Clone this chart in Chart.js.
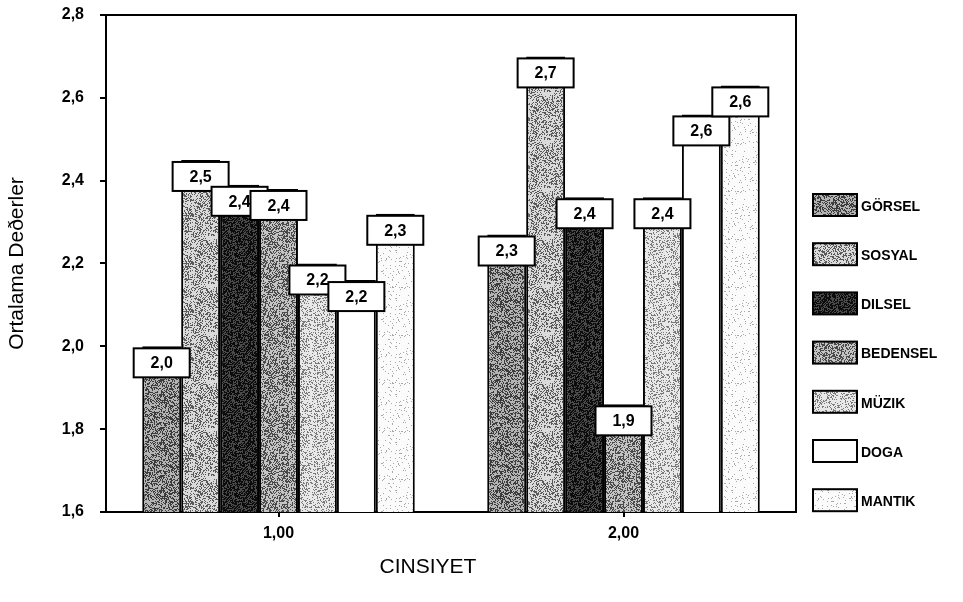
<!DOCTYPE html>
<html>
<head>
<meta charset="utf-8">
<script src="https://cdn.jsdelivr.net/npm/chart.js@4.4.1/dist/chart.umd.min.js"></script>
<style>
    body { margin: 0; background: #fff; }
</style>
</head>
<body>
<canvas id="grafico" width="963" height="602"></canvas>
<script>
// datos
let categorias = ["1,00", "2,00"];
let nombresSeries = ["GÖRSEL", "SOSYAL", "DILSEL", "BEDENSEL", "MÜZIK", "DOGA", "MANTIK"];
let gorsel = [2.00, 2.27];
let sosyal = [2.45, 2.70];
let dilsel = [2.39, 2.36];
let bedensel = [2.38, 1.86];
let muzik = [2.20, 2.36];
let doga = [2.16, 2.56];
let mantik = [2.32, 2.63];
let valoresSeries = [gorsel, sosyal, dilsel, bedensel, muzik, doga, mantik];

let fuente = "'Liberation Sans', Arial, sans-serif";

// texturas punteadas tipo escaneo (solo para el relleno)
let texturas = [
    { fondo: "#b4b4b4", punto: "#3c3c3c", densidad: 0.45, semilla: 11 },
    { fondo: "#dadada", punto: "#5a5a5a", densidad: 0.35, semilla: 23 },
    { fondo: "#4a4a4a", punto: "#0c0c0c", densidad: 0.60, semilla: 37 },
    { fondo: "#c4c4c4", punto: "#4a4a4a", densidad: 0.45, semilla: 41 },
    { fondo: "#e8e8e8", punto: "#7a7a7a", densidad: 0.28, semilla: 53 },
    { fondo: "#ffffff", punto: "#ffffff", densidad: 0, semilla: 61 },
    { fondo: "#fbfbfb", punto: "#a8a8a8", densidad: 0.06, semilla: 71 }
];

function crearPatron(t) {
    let c = document.createElement("canvas");
    c.width = 48;
    c.height = 48;
    let cx = c.getContext("2d");
    cx.fillStyle = t.fondo;
    cx.fillRect(0, 0, 48, 48);
    cx.fillStyle = t.punto;
    let s = t.semilla;
    for (let i = 0; i < 48 * 48; i++) {
        s = (s * 1103515245 + 12345) % 2147483648;
        if (s / 2147483648 < t.densidad) {
            cx.fillRect(i % 48, Math.floor(i / 48), 1, 1);
        }
    }
    return document.getElementById("grafico").getContext("2d").createPattern(c, "repeat");
}

let patrones = texturas.map(t => crearPatron(t));

let datasets = nombresSeries.map((nombre, i) => ({
    label: nombre,
    data: valoresSeries[i],
    backgroundColor: patrones[i],
    borderColor: "#000",
    borderWidth: 2,
    borderSkipped: "bottom",
    categoryPercentage: 0.79,
    barPercentage: 1.0
}));

// cajitas con el valor arriba de cada barra
const etiquetasBarras = {
    id: "etiquetasBarras",
    afterDatasetsDraw(chart) {
        let ctx = chart.ctx;
        ctx.save();
        chart.data.datasets.forEach((ds, i) => {
            let meta = chart.getDatasetMeta(i);
            meta.data.forEach((barra, j) => {
                let ancho = 56, alto = 29;
                let x = barra.x - ancho / 2;
                let y = barra.y + 2;
                ctx.fillStyle = "#fff";
                ctx.fillRect(x, y, ancho, alto);
                ctx.strokeStyle = "#000";
                ctx.lineWidth = 2;
                ctx.strokeRect(x, y, ancho, alto);
                ctx.fillStyle = "#000";
                ctx.font = "bold 16px " + fuente;
                ctx.textAlign = "center";
                ctx.textBaseline = "middle";
                ctx.fillText(ds.data[j].toFixed(1).replace(".", ","), barra.x, y + alto / 2 + 1);
            });
        });
        ctx.restore();
    }
};

// marco superior/derecho, titulo del eje x y leyenda a la derecha
const marcoYLeyenda = {
    id: "marcoYLeyenda",
    afterDraw(chart) {
        let ctx = chart.ctx;
        let a = chart.chartArea;
        ctx.save();
        ctx.strokeStyle = "#000";
        ctx.lineWidth = 2;
        ctx.beginPath();
        ctx.moveTo(a.left, a.top);
        ctx.lineTo(a.right, a.top);
        ctx.lineTo(a.right, a.bottom);
        ctx.stroke();

        ctx.fillStyle = "#000";
        ctx.font = "21px " + fuente;
        ctx.textAlign = "center";
        ctx.textBaseline = "middle";
        ctx.fillText("CINSIYET", 428, 567);

        chart.data.datasets.forEach((ds, i) => {
            let yc = 205 + i * 49.2;
            ctx.fillStyle = ds.backgroundColor;
            ctx.fillRect(813, yc - 11, 44, 22);
            ctx.strokeRect(813, yc - 11, 44, 22);
            ctx.fillStyle = "#000";
            ctx.font = "bold 14px " + fuente;
            ctx.textAlign = "left";
            ctx.textBaseline = "middle";
            ctx.fillText(ds.label, 861, yc + 2);
        });
        ctx.restore();
    }
};

new Chart(document.getElementById("grafico"), {
    type: "bar",
    data: { labels: categorias, datasets: datasets },
    options: {
        responsive: false,
        animation: false,
        layout: { padding: { top: 15, right: 167, bottom: 0, left: 1 } },
        plugins: {
            legend: { display: false },
            tooltip: { enabled: false }
        },
        scales: {
            x: {
                afterFit(scale) { scale.height = 90; },
                grid: { display: true, drawOnChartArea: false, offset: false, color: "#000", lineWidth: 2, tickLength: 5 },
                border: { display: true, color: "#000", width: 2 },
                ticks: { color: "#000", padding: 7, font: { family: fuente, size: 16, weight: "bold" } },
                title: { display: false }
            },
            y: {
                min: 1.6,
                max: 2.8,
                afterFit(scale) {
                    scale.width = 105;
                    scale.paddingTop = 0;
                    scale.paddingBottom = 0;
                },
                grid: { display: true, drawOnChartArea: false, color: "#000", lineWidth: 2, tickLength: 6 },
                border: { display: true, color: "#000", width: 2 },
                ticks: {
                    stepSize: 0.2,
                    color: "#000",
                    padding: 16,
                    font: { family: fuente, size: 16, weight: "bold" },
                    callback: v => v.toFixed(1).replace(".", ",")
                },
                title: { display: true, text: "Ortalama Deðerler", color: "#000", font: { family: fuente, size: 21 }, padding: 4 }
            }
        }
    },
    plugins: [etiquetasBarras, marcoYLeyenda]
});
</script>
</body>
</html>
